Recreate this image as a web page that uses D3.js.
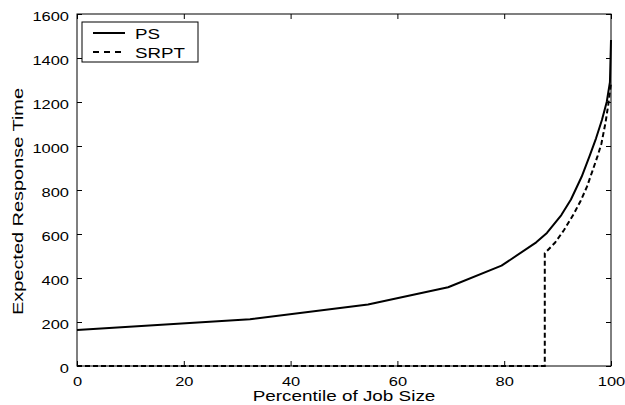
<!DOCTYPE html>
<html>
<head>
<meta charset="utf-8">
<script src="https://cdn.jsdelivr.net/npm/d3@7"></script>
<style>
  html, body { margin: 0; padding: 0; background: #fff; }
  svg { display: block; }
  text { font-family: "Liberation Sans", Arial, Helvetica, sans-serif; fill: #000; }
</style>
</head>
<body>
<svg id="chart" width="625" height="405"></svg>
<script>
// Percentile of job size (x) and expected response time (y) for each policy
const psPercentile   = [0, 32.4, 54.5, 69.5, 79.5, 86, 88, 90.7, 92.5, 94.5, 96, 97.2, 98.3, 99.2, 99.8, 100];
const psResponse     = [164, 212, 280, 358, 456, 562, 605, 686, 757, 860, 955, 1035, 1118, 1200, 1290, 1482];
const srptPercentile = [0, 87.6, 87.6, 89.5, 91.2, 93, 94.3, 95.5, 96.5, 97.5, 98.2, 99, 99.5, 100];
const srptResponse   = [0, 0, 513, 560, 618, 690, 750, 815, 885, 955, 1010, 1110, 1190, 1285];

const xTicks = [0, 20, 40, 60, 80, 100];
const yTicks = [0, 200, 400, 600, 800, 1000, 1200, 1400, 1600];
const seriesNames = ["PS", "SRPT"];

const svg = d3.select("#chart");
const margin = { left: 77, right: 14, top: 14, bottom: 39 };
const W = 625, H = 405;
const x = d3.scaleLinear().domain([0, 100]).range([margin.left, W - margin.right]);
const y = d3.scaleLinear().domain([0, 1600]).range([H - margin.bottom, margin.top]);

// widen glyphs horizontally along the text direction, keeping the anchor in place
function widen(sel, k) {
  sel.each(function () {
    const t = d3.select(this);
    const tx = +t.attr("x") || 0, ty = +t.attr("y") || 0;
    t.attr("x", 0).attr("y", 0)
     .attr("transform", `translate(${tx},${ty}) scale(${k},1)`);
  });
}

// plot series
const toPts = (xs, ys) => xs.map((v, i) => [v, ys[i]]);
const line = d3.line().x(d => x(d[0])).y(d => y(d[1]));

svg.append("path")
  .datum(toPts(srptPercentile, srptResponse))
  .attr("d", line)
  .attr("fill", "none").attr("stroke", "#000")
  .attr("stroke-width", 2).attr("stroke-dasharray", "5,3");

svg.append("path")
  .datum(toPts(psPercentile, psResponse))
  .attr("d", line)
  .attr("fill", "none").attr("stroke", "#000")
  .attr("stroke-width", 2).attr("stroke-linejoin", "round");

// axes with inward ticks
const tickFont = 13.5, tickK = 1.22;
const fmt = d3.format("d");
const gx = svg.append("g")
  .attr("transform", `translate(0,${y(0)})`)
  .call(d3.axisBottom(x).tickValues(xTicks).tickSize(-5).tickPadding(10).tickFormat(fmt));
const gy = svg.append("g")
  .attr("transform", `translate(${x(0)},0)`)
  .call(d3.axisLeft(y).tickValues(yTicks).tickSize(-5).tickPadding(8).tickFormat(fmt));
svg.append("g")
  .attr("transform", `translate(0,${y(1600)})`)
  .call(d3.axisTop(x).tickValues(xTicks).tickSize(-5).tickFormat(""));
svg.append("g")
  .attr("transform", `translate(${x(100)},0)`)
  .call(d3.axisRight(y).tickValues(yTicks).tickSize(-5).tickFormat(""));

svg.selectAll(".domain").remove();
svg.selectAll(".tick line").attr("stroke", "#000").attr("stroke-width", 1);
[gx, gy].forEach(g => g.selectAll("text")
  .attr("font-size", tickFont)
  .attr("font-family", null)
  .attr("fill", "#000"));
gy.selectAll("text").attr("dy", "0.46em");
widen(gx.selectAll("text"), tickK);
widen(gy.selectAll("text"), tickK);

// frame
svg.append("rect")
  .attr("x", x(0)).attr("y", y(1600))
  .attr("width", x(100) - x(0)).attr("height", y(0) - y(1600))
  .attr("fill", "none").attr("stroke", "#000").attr("stroke-width", 1);

// axis titles
svg.append("text")
  .attr("x", (x(0) + x(100)) / 2).attr("y", 401)
  .attr("text-anchor", "middle").attr("font-size", 15)
  .text("Percentile of Job Size")
  .call(s => widen(s, 1.26));

svg.append("text")
  .attr("text-anchor", "middle").attr("font-size", 15)
  .attr("transform", `translate(22.5,${(y(0) + y(1600)) / 2 + 11.5}) rotate(-90) scale(1.33,1)`)
  .text("Expected Response Time");

// legend
const lg = svg.append("g").attr("transform", "translate(82,22)");
lg.append("rect").attr("width", 116).attr("height", 40)
  .attr("fill", "#fff").attr("stroke", "#000").attr("stroke-width", 1);
const dashes = [null, "6,5"];
seriesNames.forEach((name, i) => {
  const ly = 11 + i * 19;
  lg.append("line")
    .attr("x1", 11).attr("x2", 43).attr("y1", ly).attr("y2", ly)
    .attr("stroke", "#000").attr("stroke-width", 2)
    .attr("stroke-dasharray", dashes[i]);
  lg.append("text")
    .attr("x", 53).attr("y", ly + 6)
    .attr("font-size", 15)
    .text(name)
    .call(s => widen(s, 1.25));
});
</script>
</body>
</html>
